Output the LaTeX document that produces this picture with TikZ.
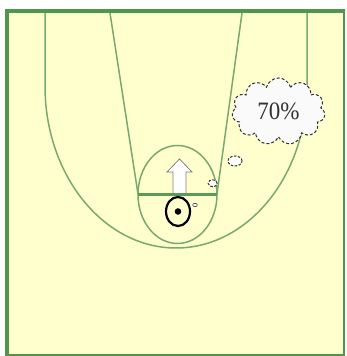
\documentclass[tikz,border=0pt]{standalone}
\usepackage{xcolor}
\usepackage{fontspec}
\usepackage{tikz}
\usetikzlibrary{shapes,positioning}
\newfontfamily\bubblefont{Liberation Serif}
\definecolor{courtbg}{RGB}{255,255,206}
\definecolor{framegreen}{RGB}{78,150,78}
\definecolor{courtline}{RGB}{122,168,112}
\definecolor{bubblegray}{RGB}{50,50,50}

\begin{document}
\begin{tikzpicture}[
    x=1pt, y=1pt,
    court/.style={draw=courtline, line width=1.5pt},
    bubble/.style={ellipse, draw=bubblegray, fill=white, dash pattern=on 2.5pt off 1.5pt, line width=1pt, inner sep=0pt},
    thought/.style={cloud, cloud puffs=11, aspect=1.4, draw=bubblegray, fill=gray!4, dash pattern=on 3pt off 2pt, line width=1pt, inner sep=0pt, text=black!80, font=\bubblefont\fontsize{25}{25}\selectfont},
    player/.style={ellipse, draw=black, line width=2.2pt, minimum width=24pt, minimum height=29pt, inner sep=0pt}
]
    \useasboundingbox (0,0) rectangle (346,356);
    % Floor and frame
    \fill[courtbg] (7,1) rectangle (344,345);
    \draw[framegreen, line width=2pt] (344,347) -- (344,1) -- (7,1);
    \draw[framegreen, line width=4.5pt] (7,0) -- (7,345) -- (345,345);

    % Court lines
    \draw[court] (45,343) -- (45,270) arc[start angle=180, end angle=360, x radius=131, y radius=162] -- (307,343);
    \draw[court] (110,343) -- (138,162);
    \draw[court] (242,343) -- (217,162);
    \draw[court] (177.5,161.5) ellipse [x radius=39.5, y radius=49];

    % Move arrow
    \draw[gray, fill=white, line width=0.8pt] (173,162) -- (173,184) -- (167,184) -- (179.5,197) -- (192,184) -- (186,184) -- (186,162) -- cycle;
    \draw[court, line width=2.5pt, draw=framegreen!70!courtline] (138,161.5) -- (217,161.5);

    % Player
    \node[player] (p) at (178,144.5) {};
    \node[circle, fill=black, inner sep=0pt, minimum size=6.6pt] (pdot) at (p.center) {};
    \node[bubble, solid, line width=0.6pt, minimum width=4.5pt, minimum height=3.5pt] (b0) at (195,151) {};

    % Thought
    \node[bubble, minimum width=9pt, minimum height=7pt] (b1) at (212.7,172.7) {};
    \node[bubble, minimum width=14pt, minimum height=10pt] (b2) at (235,195) {};
    \node[thought, minimum width=93pt, minimum height=67pt] (t) at (278.5,244.5) {\scalebox{0.92}[1]{70\%}};
\end{tikzpicture}
\end{document}
